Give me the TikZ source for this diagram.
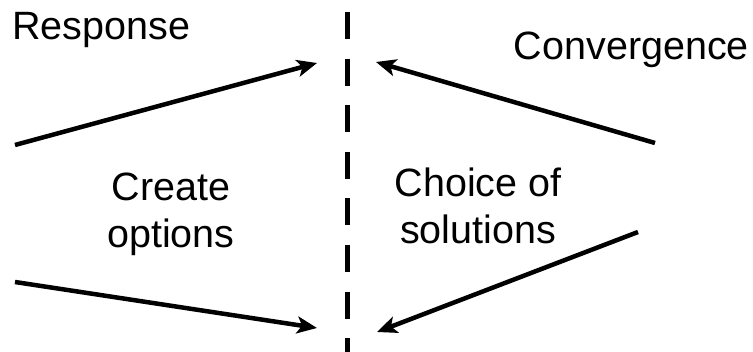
\documentclass[tikz,border=0pt]{standalone}
\usepackage{fontspec}
\setmainfont{Liberation Sans}
\usetikzlibrary{arrows.meta}
\begin{document}
\begin{tikzpicture}[x=1pt,y=-1pt,
  lbl/.style={font=\fontsize{39.5}{47}\selectfont, inner sep=0pt, align=center},
  arr/.style={line width=4.5pt, -{Stealth[length=20pt,width=17pt,inset=5pt]}},
  divider/.style={line width=5pt, dash pattern=on 27pt off 19.6pt}]
\useasboundingbox (0,0) rectangle (753,352);
\node[lbl, anchor=base west] (resp) at (12,40) {Response};
\node[lbl, anchor=base east] (conv) at (749,60) {Convergence};
\node[lbl, anchor=base] (create) at (171,248) {Create\\options};
\node[lbl, anchor=base] (choice) at (478,244) {Choice of\\solutions};
\coordinate (dtop) at (347,12);
\coordinate (dbot) at (347,360);
\draw[divider] (dtop) -- (dbot);
\coordinate (a1s) at (15,145);
\coordinate (a1e) at (317,63);
\coordinate (a2s) at (655,143);
\coordinate (a2e) at (376,62);
\coordinate (a3s) at (15,282);
\coordinate (a3e) at (317,328);
\coordinate (a4s) at (638,232);
\coordinate (a4e) at (377,332);
\draw[arr] (a1s) -- (a1e);
\draw[arr] (a2s) -- (a2e);
\draw[arr] (a3s) -- (a3e);
\draw[arr] (a4s) -- (a4e);
\end{tikzpicture}
\end{document}
